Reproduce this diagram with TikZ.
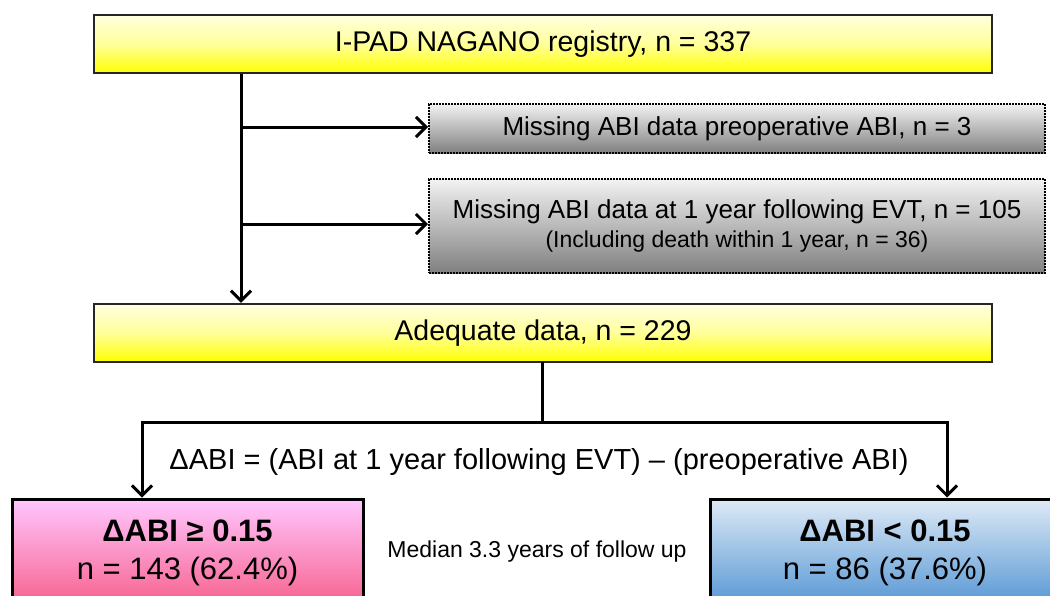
\documentclass[tikz,border=0pt]{standalone}
\usepackage{fontspec}
\setmainfont{Liberation Sans}
\usetikzlibrary{arrows.meta}
\begin{document}
\begin{tikzpicture}[x=1pt,y=-1pt,
  ybox/.style={draw=black!85, line width=2.5pt, top color=yellow!12, bottom color=yellow, middle color=yellow!40, inner sep=0pt,
    font=\fontsize{28.5}{34}\selectfont},
  gbox/.style={draw=black, line width=2pt, densely dotted, top color=white!95!black, bottom color=black!50, inner sep=0pt, align=center},
  pbox/.style={draw=black, line width=3pt, top color=magenta!22, bottom color={rgb,255:red,247;green,96;blue,140}, inner sep=0pt, align=center,
    font=\fontsize{31}{38}\selectfont},
  bbox/.style={draw=black, line width=3pt, top color={rgb,255:red,222;green,234;blue,246}, bottom color={rgb,255:red,85;green,150;blue,212}, inner sep=0pt, align=center,
    font=\fontsize{31}{38}\selectfont},
  conn/.style={line width=3pt, line cap=rect},
  arr/.style={line width=3pt, -{Straight Barb[length=10pt,width=20pt,line width=3pt]}}
]
\useasboundingbox (0,0) rectangle (1050,595);
\clip (0,0) rectangle (1050,595);
\fill[white] (0,0) rectangle (1050,595);

\node[ybox, minimum width=898pt, minimum height=58pt] (reg) at (543,44) {I-PAD NAGANO registry, n = 337};
\node[ybox, minimum width=898pt, minimum height=58pt] (adq) at (543,333) {Adequate data, n = 229};

\node[gbox, minimum width=616pt, minimum height=49pt, font=\fontsize{26}{30}\selectfont] (m1) at (737,128.5) {Missing ABI data preoperative ABI, n = 3};
\node[gbox, minimum width=616pt, minimum height=94pt] (m2) at (737,226) {\fontsize{26}{30}\selectfont Missing ABI data at 1 year following EVT, n = 105\\[6pt]\fontsize{23}{26}\selectfont (Including death within 1 year, n = 36)};

\node[pbox, minimum width=351pt, minimum height=108pt] (g1) at (187.5,553) {\textbf{ΔABI ≥ 0.15}\\n = 143 (62.4\%)};
\node[bbox, minimum width=350pt, minimum height=108pt] (g2) at (885,553) {\textbf{ΔABI < 0.15}\\n = 86 (37.6\%)};

\node[font=\fontsize{23}{26}\selectfont] (med) at (537,552) {Median 3.3 years of follow up};
\node[font=\fontsize{29}{34}\selectfont] (dt) at (539,462) {ΔABI = (ABI at 1 year following EVT) – (preoperative ABI)};

\coordinate (j1) at (241,127);
\coordinate (j2) at (241,224);
\draw[arr] (reg.south -| j1) -- (adq.north -| j1);
\draw[arr] (j1) -- (j1 -| m1.west);
\draw[arr] (j2) -- (j2 -| m2.west);

\coordinate (sp) at (542,422);
\coordinate (cl) at (142,422);
\coordinate (cr) at (947,422);
\draw[conn] (adq.south -| sp) -- (sp);
\draw[arr, line cap=rect] (sp) -- (cl) -- (cl |- g1.north);
\draw[arr, line cap=rect] (sp) -- (cr) -- (cr |- g2.north);
\end{tikzpicture}
\end{document}
